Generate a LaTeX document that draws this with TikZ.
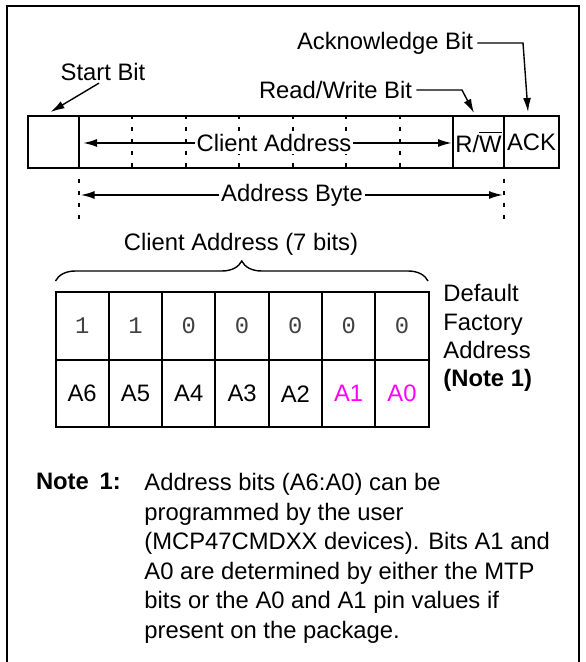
\documentclass[tikz,border=0pt]{standalone}
\usepackage{fontspec}
\setmainfont{Liberation Sans}
\setmonofont{Liberation Mono}
\usetikzlibrary{arrows.meta,decorations.pathreplacing}

\tikzset{
  lbl/.style={font=\fontsize{11.9}{14}\selectfont, inner sep=2pt},
  cell/.style={draw, line width=1pt, minimum height=26pt, inner sep=0pt, font=\fontsize{11.9}{14}\selectfont},
  tabcell/.style={draw, line width=1pt, minimum width=26.65pt, inner sep=0pt, font=\fontsize{11.9}{14}\selectfont},
  tick/.style={line width=1pt, dash pattern=on 2pt off 4pt},
  callout/.style={line width=0.7pt, -{Latex[length=7pt,width=4pt]}},
  span/.style={line width=0.9pt, {Latex[length=7pt,width=4pt]}-{Latex[length=7pt,width=4pt]}}
}
\definecolor{pinbit}{RGB}{255,0,255}

\begin{document}
\begin{tikzpicture}[x=0.5pt, y=-0.5pt]
\useasboundingbox (0,0) rectangle (585,662);
% ====================
% Outer frame (open at the bottom)
\draw[line width=1pt] (6.7,662) -- (6.7,6) -- (579,6) -- (579,662);

% ====================
% Register: start bit, client address field, R/W and ACK
\node[cell, minimum width=25.35pt] (startcell) at (53.35,142) {};
\node[cell, minimum width=187.15pt] (addrcell) at (265.85,142) {};
\node[cell, minimum width=25.5pt] (rwcell) at (478.5,142) {R/$\overline{\mbox{W}}$};
\node[cell, minimum width=27.5pt] (ackcell) at (531.5,142) {ACK};
% Dashed separators between the seven address bits
\foreach \i in {1,...,6}
  \draw[tick] ({78.7+53.5*\i},115) -- ({78.7+53.5*\i},168);
% Span of the client address
\coordinate (cafrom) at (83,143);
\coordinate (cato) at (452,143);
\draw[span] (cafrom) -- (cato);
\node[lbl, fill=white, inner sep=1pt] (calbl) at (274,143) {Client Address};

% ====================
% Callouts above the register
\node[lbl] (startlbl) at (103,72) {Start Bit};
\coordinate (starttip) at (50.6,112);
\draw[callout] ([xshift=-2pt,yshift=1pt]startlbl.south) -- (starttip);

\node[lbl] (rwlbl) at (335.5,90) {Read/Write Bit};
\coordinate (rwbend) at (462,90);
\coordinate (rwtip) at (474,113);
\draw[callout] (rwlbl.east) -- (rwbend) -- (rwtip);

\node[lbl] (acklbl) at (385,43) {Acknowledge Bit};
\coordinate (ackbend) at (523,43);
\coordinate (acktip) at (528,112);
\draw[callout] (acklbl.east) -- (ackbend) -- (acktip);

% ====================
% Address byte span below the register
\draw[tick, dash phase=2pt] (78.7,171) -- (78.7,222);
\draw[tick, dash phase=2pt] (504,171) -- (504,222);
\coordinate (abfrom) at (80.6,195);
\coordinate (abto) at (503,195);
\draw[span] (abfrom) -- (abto);
\node[lbl, fill=white, inner sep=1pt] (ablbl) at (292,195) {Address Byte};

% ====================
% Client address bits with default factory values
\node[lbl] (bitslbl) at (241,244) {Client Address (7 bits)};
\draw[line width=0.7pt, decorate, decoration={brace, amplitude=10pt}] (55.5,281) -- (428,281);
\foreach \v [count=\i from 0] in {1,1,0,0,0,0,0}
  \node[tabcell, minimum height=34pt, font=\ttfamily\fontsize{11.9}{14}\selectfont, text=black!75] (val\i) at ({82.15+53.3*\i},326) {\v};
\foreach \n/\c [count=\i from 0] in {A6/black,A5/black,A4/black,A3/black,A2/black,A1/pinbit,A0/pinbit}
  \node[tabcell, minimum height=33.5pt, text=\c] (bit\i) at ({82.15+53.3*\i},393.75) {\n};
\node[lbl, anchor=north west, align=left, inner sep=0pt, font=\fontsize{11.9}{14.2}\selectfont] (factlbl) at (443,284)
  {Default\\Factory\\Address\\\textbf{(Note 1)}};

% ====================
% Note
\node[lbl, anchor=north west, inner sep=0pt] (notehd) at (35.6,473) {\textbf{Note\hspace{0.45em}1:}};
\node[lbl, anchor=north west, align=left, inner sep=0pt, font=\fontsize{11.9}{14.75}\selectfont] (notetxt) at (144,473)
  {Address bits (A6:A0) can be\\programmed by the user\\(MCP47CMDXX devices). Bits A1 and\\A0 are determined by either the MTP\\bits or the A0 and A1 pin values if\\present on the package.};
\end{tikzpicture}
\end{document}
